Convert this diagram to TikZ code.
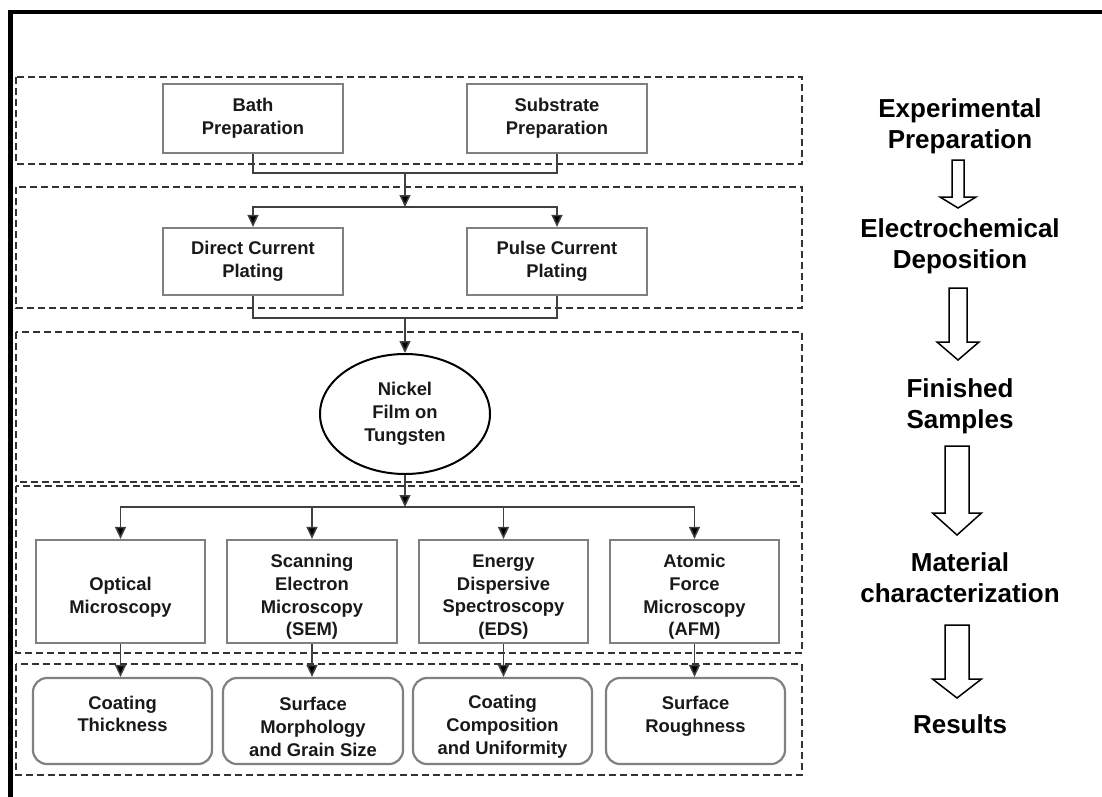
\documentclass[tikz,border=0pt]{standalone}
\usepackage{fontspec}
\setmainfont{Liberation Sans}
\usetikzlibrary{arrows.meta,shapes.geometric}
\begin{document}
\begin{tikzpicture}[x=1pt,y=-1pt,
  grp/.style={draw=black!80,line width=1.8pt,dash pattern=on 7pt off 4pt},
  box/.style={draw=black!50,line width=2.2pt,rectangle,inner sep=0pt},
  rbox/.style={box,rounded corners=14pt},
  txt/.style={font=\fontsize{18.4}{22.8}\selectfont\bfseries,align=center,text=black!90,inner sep=0pt},
  side/.style={font=\fontsize{26}{31}\selectfont\bfseries,align=center,inner sep=0pt},
  conn/.style={draw=black!75,line width=1.5pt},
  arr/.style={conn,-{Triangle[length=12pt,width=11pt,fill=black]}},
  blk/.style={draw=black,line width=1.5pt,fill=white,line join=miter}]
\useasboundingbox (0,0) rectangle (1102,797);
\fill[white] (0,0) rectangle (1102,797);
% outer frame
\draw[line width=4.3pt,line join=miter] (10.5,797) -- (10.5,11.7) -- (1102,11.7);
% group boxes
\draw[grp] (16,77) rectangle (802,164);
\draw[grp] (16,187) rectangle (802,308);
\draw[grp] (16,332) rectangle (802,482);
\draw[grp] (16,486) rectangle (802,653);
\draw[grp] (16,664) rectangle (802,775);
% row 1
\node[box,txt,draw=black!50,minimum width=180pt,minimum height=69pt] (bath) at (253,118.5) {Bath\\Preparation};
\node[box,txt,draw=black!50,minimum width=180pt,minimum height=69pt] (sub) at (557,118.5) {Substrate\\Preparation};
% row 2
\node[box,txt,draw=black!50,minimum width=180pt,minimum height=67pt] (dc) at (253,261.5) {Direct Current\\Plating};
\node[box,txt,draw=black!50,minimum width=180pt,minimum height=67pt] (pc) at (557,261.5) {Pulse Current\\Plating};
% row 3
\node[txt,draw=black,line width=2pt,ellipse,minimum width=170pt,minimum height=120pt] (ell) at (405,414) {Nickel\\Film on\\Tungsten};
% row 4
\node[box,minimum width=169pt,minimum height=103pt] (om) at (120.5,591.5) {};
\node[box,minimum width=170pt,minimum height=103pt] (sem) at (312,591.5) {};
\node[box,minimum width=169pt,minimum height=103pt] (eds) at (503.5,591.5) {};
\node[box,minimum width=169pt,minimum height=103pt] (afm) at (694.5,591.5) {};
\node[txt] (tom) at (120.5,597) {Optical\\Microscopy};
\node[txt] (tsem) at (312,597) {Scanning\\Electron\\Microscopy\\(SEM)};
\node[txt] (teds) at (503.5,597) {Energy\\Dispersive\\Spectroscopy\\(EDS)};
\node[txt] (tafm) at (694.5,597) {Atomic\\Force\\Microscopy\\(AFM)};
% row 5
\node[rbox,minimum width=179pt,minimum height=86pt] (ct) at (122.5,721) {};
\node[rbox,minimum width=180pt,minimum height=86pt] (smg) at (313,721) {};
\node[rbox,minimum width=179pt,minimum height=86pt] (cc) at (502.5,721) {};
\node[rbox,minimum width=179pt,minimum height=86pt] (sr) at (695.5,721) {};
\node[txt] (tct) at (122.5,714) {Coating\\Thickness};
\node[txt] (tsmg) at (313,727) {Surface\\Morphology\\and Grain Size};
\node[txt] (tcc) at (502.5,727) {Coating\\Composition\\and Uniformity};
\node[txt] (tsr) at (695.5,716) {Surface\\Roughness};
% connectors
\coordinate (j1) at (405,173);
\coordinate (j2) at (405,207);
\coordinate (j3) at (405,318);
\coordinate (j4) at (405,507);
\draw[conn] (bath.south) |- (j1) -| (sub.south);
\draw[arr] (j1) -- (j2);
\draw[arr] (j2) -| (dc.north);
\draw[arr] (j2) -| (pc.north);
\draw[conn] (dc.south) |- (j3) -| (pc.south);
\draw[arr] (j3) -- (ell.north);
\draw[arr] (ell.south) -- (j4);
\draw[arr] (j4) -| (om.north);
\draw[arr] (j4) -| (afm.north);
\draw[arr] (sem.north |- j4) -- (sem.north);
\draw[arr] (eds.north |- j4) -- (eds.north);
\draw[arr] (om.south) -- (om.south |- ct.north);
\draw[arr] (sem.south) -- (sem.south |- smg.north);
\draw[arr] (eds.south) -- (eds.south |- cc.north);
\draw[arr] (afm.south) -- (afm.south |- sr.north);
% right column
\node[side] (s1) at (960,126) {Experimental\\Preparation};
\node[side] (s2) at (960,246) {Electrochemical\\Deposition};
\node[side] (s3) at (960,406) {Finished\\Samples};
\node[side] (s4) at (960,578) {Material\\characterization};
\node[side] (s5) at (960,724) {Results};
\draw[blk] (952,160) -- (964,160) -- (964,197) -- (976,197) -- (958,208) -- (940,197) -- (952,197) -- cycle;
\draw[blk] (949,288) -- (967,288) -- (967,342) -- (979,342) -- (958,360) -- (937,342) -- (949,342) -- cycle;
\draw[blk] (945,446) -- (969,446) -- (969,513) -- (981.5,513) -- (957,535) -- (932.5,513) -- (945,513) -- cycle;
\draw[blk] (945,625) -- (969,625) -- (969,679) -- (981.5,679) -- (957,698) -- (932.5,679) -- (945,679) -- cycle;
\end{tikzpicture}
\end{document}
